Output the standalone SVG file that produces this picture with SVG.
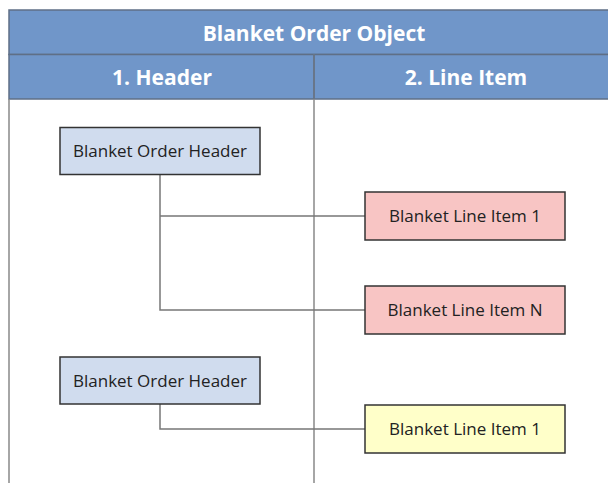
<svg xmlns="http://www.w3.org/2000/svg" width="608" height="483" viewBox="0 0 608 483">
<style>
.band{fill:#7096C9;stroke:#5F6F86;stroke-width:1.5}
.frame{fill:none;stroke:#888888;stroke-width:1.5}
.ht{font-family:"Open Sans","Liberation Sans",sans-serif;font-weight:bold;fill:#ffffff;text-anchor:middle;font-size:21px}
.box{stroke:#333333;stroke-width:1.5}
.hdr{fill:#D0DCEE}
.red{fill:#F8C5C4}
.yel{fill:#FFFFC9}
.t{font-family:"Open Sans","Liberation Sans",sans-serif;font-size:17px;fill:#222222;text-anchor:middle}
.c{fill:none;stroke:#777777;stroke-width:1.5}
</style>
<rect width="608" height="483" fill="#ffffff"/>
<g id="frame">
<rect class="band" x="9" y="10" width="610" height="44.5"/>
<rect class="band" x="9" y="54.5" width="610" height="44.5"/>
<line class="frame" x1="9" y1="99" x2="9" y2="483"/>
<line class="frame" x1="314" y1="54.5" x2="314" y2="483"/>
<line x1="314" y1="54.5" x2="314" y2="99" stroke="#5F6F86" stroke-width="1.5"/>
<text class="ht" x="314" y="40.5">Blanket Order Object</text>
<text class="ht" x="162" y="84.5">1. Header</text>
<text class="ht" x="466" y="84.5">2. Line Item</text>
</g>
<g id="connectors">
<path class="c" d="M160,174 V310 H365 M160,216 H365"/>
<path class="c" d="M160,404 V429 H365"/>
</g>
<g id="header1">
<rect class="box hdr" x="60" y="127.5" width="200" height="47"/>
<text class="t" x="160" y="157">Blanket Order Header</text>
</g>
<g id="line1">
<rect class="box red" x="365" y="192" width="200" height="48"/>
<text class="t" x="465" y="222">Blanket Line Item 1</text>
</g>
<g id="lineN">
<rect class="box red" x="365" y="286" width="200" height="48"/>
<text class="t" x="465" y="316">Blanket Line Item N</text>
</g>
<g id="header2">
<rect class="box hdr" x="60" y="357" width="200" height="47"/>
<text class="t" x="160" y="386.5">Blanket Order Header</text>
</g>
<g id="line1b">
<rect class="box yel" x="365" y="405" width="200" height="48"/>
<text class="t" x="465" y="435">Blanket Line Item 1</text>
</g>
</svg>
